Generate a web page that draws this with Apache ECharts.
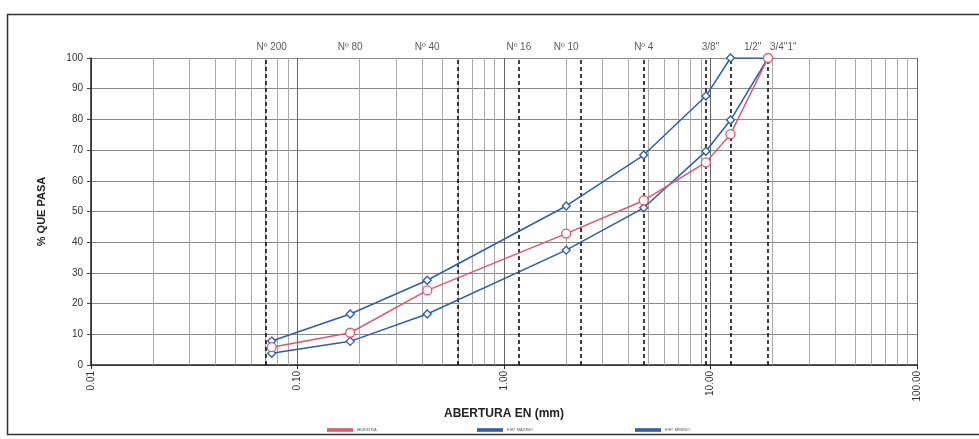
<!DOCTYPE html>
<html>
<head>
<meta charset="utf-8">
<script src="https://cdn.jsdelivr.net/npm/echarts@6/dist/echarts.min.js"></script>
<style>html,body{margin:0;padding:0;background:#fff;}#c{width:979px;height:439px;}</style>
</head>
<body>
<div id="c"></div>
<script>
// Sieve openings (mm) where data was measured
const aberturas = [0.075, 0.18, 0.425, 2.0, 4.75, 9.5, 12.5, 19.0];
const muestra = [5.8, 10.5, 24.3, 42.8, 53.6, 66.0, 75.2, 100];
const limiteSuperior = [7.8, 16.6, 27.6, 51.8, 68.4, 87.6, 100, 100];
const limiteInferior = [3.8, 7.7, 16.6, 37.4, 51.2, 69.6, 79.8, 100];
const serieNames = ['MUESTRA', 'ESP. MAXIMO', 'ESP. MINIMO'];
// dashed sieve reference lines (mm)
const tamicesLineas = [0.075, 0.6, 1.18, 2.36, 4.75, 9.5, 12.5, 19.0];
// sieve labels at top and their anchor values (mm)
const tamicesNombres = ['Nº 200', 'Nº 80', 'Nº 40', 'Nº 16', 'Nº 10', 'Nº 4', '3/8"', '1/2"', '3/4"1"'];
const tamicesAnclas = [0.075, 0.18, 0.425, 1.18, 2.0, 4.75, 10.0, 16.0, 22.5];
// minor log grid values
const menores = [];
[0.01, 0.1, 1, 10].forEach(d => { for (let k = 2; k <= 9; k++) menores.push(+(d * k).toPrecision(3)); });

const FONT = 'Liberation Sans';
const blue = '#2c5fa6';
const red = '#e2566c';

const chart = echarts.init(document.getElementById('c'), null, {renderer: 'canvas'});
const pairs = arr => aberturas.map((x, i) => [x, arr[i]]);

chart.setOption({
  animation: false,
  backgroundColor: '#fff',
  textStyle: {fontFamily: FONT},
  grid: {left: 91, right: 62, top: 58, bottom: 74},
  graphic: [{
    type: 'rect', left: 5, top: 12, shape: {width: 990, height: 420},
    style: {fill: 'none', stroke: '#333', lineWidth: 1.5}, silent: true
  }],
  legend: serieNames.map((n, i) => ({
    data: [n], left: [322, 472, 630][i], top: 423,
    itemWidth: 24, itemHeight: 2, icon: 'path://M0,0L24,0L24,1.6L0,1.6Z', itemGap: 4,
    textStyle: {fontSize: 4, color: '#555', fontFamily: FONT}
  })),
  xAxis: {
    type: 'log', logBase: 10, min: 0.01, max: 100,
    name: 'ABERTURA EN (mm)', nameLocation: 'middle', nameGap: 43, nameMoveOverlap: false,
    nameTextStyle: {fontSize: 12, fontWeight: 'bold', color: '#222', fontFamily: FONT},
    axisLine: {show: true, onZero: false, lineStyle: {color: '#222', width: 1.5}},
    axisTick: {show: true, length: 4, lineStyle: {color: '#222'}},
    axisLabel: {rotate: 90, fontSize: 10, color: '#333', margin: 6,
      formatter: v => Number(v).toFixed(2)},
    splitLine: {show: true, lineStyle: {color: '#666', width: 1}}
  },
  yAxis: {
    type: 'value', min: 0, max: 100, interval: 10,
    name: '% QUE PASA', nameLocation: 'middle', nameGap: 44, nameRotate: 90, nameMoveOverlap: false,
    nameTextStyle: {fontSize: 11, fontWeight: 'bold', color: '#222', fontFamily: FONT},
    axisLine: {show: true, lineStyle: {color: '#222', width: 1.5}},
    axisTick: {show: true, length: 4, lineStyle: {color: '#444'}},
    axisLabel: {fontSize: 10, color: '#333', margin: 8},
    splitLine: {show: true, lineStyle: {color: '#888', width: 1}}
  },
  series: [
    {
      name: 'grid-minor', type: 'line', data: [], silent: true,
      markLine: {silent: true, symbol: 'none', label: {show: false}, animation: false,
        lineStyle: {color: '#aaa', width: 1, type: 'solid'},
        data: menores.map(v => ({xAxis: v}))}
    },
    {
      name: 'tamices', type: 'line', data: [], silent: true,
      markLine: {silent: true, symbol: 'none', label: {show: false}, animation: false,
        lineStyle: {color: '#111', width: 1.6, type: [4, 3]},
        data: tamicesLineas.map(v => ({xAxis: v}))}
    },
    {
      name: 'etiquetas', type: 'scatter', silent: true, symbolSize: 0,
      data: tamicesAnclas.map((x, i) => ({value: [x, 100], name: tamicesNombres[i]})),
      label: {show: true, position: 'top', distance: 6, fontSize: 10, color: '#333',
        fontFamily: FONT, formatter: p => p.name},
      z: 1
    },
    {
      name: serieNames[1], type: 'line', data: pairs(limiteSuperior),
      symbol: 'diamond', symbolSize: 8, showAllSymbol: true,
      itemStyle: {color: '#fff', borderColor: blue, borderWidth: 1.3},
      lineStyle: {color: blue, width: 1.5}, color: blue, z: 5
    },
    {
      name: serieNames[2], type: 'line', data: pairs(limiteInferior),
      symbol: 'diamond', symbolSize: 8, showAllSymbol: true,
      itemStyle: {color: '#fff', borderColor: blue, borderWidth: 1.3},
      lineStyle: {color: blue, width: 1.5}, color: blue, z: 5
    },
    {
      name: serieNames[0], type: 'line', data: pairs(muestra),
      symbol: 'circle', symbolSize: 9, showAllSymbol: true,
      itemStyle: {color: '#fff', borderColor: red, borderWidth: 1.3},
      lineStyle: {color: red, width: 1.5}, color: red, z: 6
    }
  ]
});
</script>
</body>
</html>
